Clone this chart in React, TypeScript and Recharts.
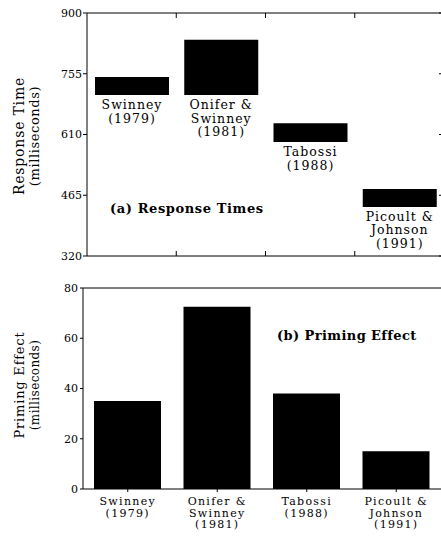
import React from 'react';
import { BarChart, Bar, XAxis, YAxis, LabelList } from 'recharts';

// study labels, one line per "\n"
const studies = [
  'Swinney\n(1979)',
  'Onifer &\nSwinney\n(1981)',
  'Tabossi\n(1988)',
  'Picoult &\nJohnson\n(1991)',
];

// (a) response time range, ms
const rtLow = [704, 704, 592, 437];
const rtHigh = [747, 836, 637, 480];
const rtTicks = [320, 465, 610, 755, 900];

// (b) priming effect, ms
const primingEffect = [35, 72.5, 38, 15];
const primingTicks = [0, 20, 40, 60, 80];

// boundaries between the study columns (frame ticks)
const bandEdges = [1, 2, 3];

const FONT = '"DejaVu Serif", "Liberation Serif", serif';

const rtData = studies.map((name, i) => ({ name, pos: i + 0.5, range: [rtLow[i], rtHigh[i]] }));
const primingData = studies.map((name, i) => ({ name, value: primingEffect[i] }));

const noTick = () => null;

// caption drawn under each floating bar in panel (a)
const BarCaption = (props: any) => {
  const x = Number(props.x);
  const y = Number(props.y);
  const w = Number(props.width);
  const h = Number(props.height);
  const bottom = Math.max(y, y + h);
  const cx = x + w / 2;
  const lines = String(props.value).split('\n');
  return (
    <text x={cx} y={bottom + 14} textAnchor="middle" fontFamily={FONT} fontSize={12.5} letterSpacing={1} fill="#000">
      {lines.map((l, i) => (
        <tspan key={i} x={cx} dy={i === 0 ? 0 : 13.5}>{l}</tspan>
      ))}
    </text>
  );
};

// multi-line category tick for panel (b)
const StudyTick = (props: any) => {
  const { x, y, payload } = props;
  const lines = String(payload.value).split('\n');
  return (
    <text x={x} y={y + 11} textAnchor="middle" fontFamily={FONT} fontSize={11} letterSpacing={1.3} fill="#000">
      {lines.map((l, i) => (
        <tspan key={i} x={x} dy={i === 0 ? 0 : 11.5}>{l}</tspan>
      ))}
    </text>
  );
};

const tickStyle = { fontFamily: FONT, fontSize: 11, fill: '#000' };

export default function App() {
  return (
    <div style={{ position: 'absolute', left: 0, top: 0, width: 441, height: 540, overflow: 'hidden', background: '#fff' }}>
      {/* (a) Response times */}
      <div style={{ position: 'absolute', left: 0, top: 0 }}>
        <BarChart width={444} height={270} data={rtData} margin={{ top: 12, right: 0, bottom: 13, left: 0 }} barSize={74}>
          <XAxis dataKey="name" height={1} tick={noTick} tickLine={false} stroke="#000" />
          <XAxis xAxisId="frameTop" dataKey="name" orientation="top" height={1} tick={noTick} tickLine={false} stroke="#000" />
          <XAxis xAxisId="edgeTop" dataKey="pos" type="number" orientation="top" domain={[0, 4]} ticks={bandEdges}
            allowDataOverflow mirror axisLine={false} tick={noTick} tickSize={5} height={1} stroke="#000" />
          <XAxis xAxisId="edgeBottom" dataKey="pos" type="number" orientation="bottom" domain={[0, 4]} ticks={bandEdges}
            allowDataOverflow mirror axisLine={false} tick={noTick} tickSize={5} height={1} stroke="#000" />
          <YAxis domain={[320, 900]} ticks={rtTicks} interval={0} width={87} tickSize={4} tickMargin={1}
            tick={tickStyle} stroke="#000" allowDataOverflow />
          <YAxis yAxisId="right" orientation="right" domain={[320, 900]} ticks={rtTicks} interval={0}
            mirror tick={noTick} tickSize={5} width={2} stroke="#000" allowDataOverflow />
          <Bar dataKey="range" fill="#000" isAnimationActive={false}>
            <LabelList dataKey="name" content={BarCaption} />
          </Bar>
        </BarChart>
      </div>

      {/* (b) Priming effect */}
      <div style={{ position: 'absolute', left: 0, top: 270 }}>
        <BarChart width={441} height={270} data={primingData} margin={{ top: 17, right: 0, bottom: 0, left: 0 }} barSize={67}>
          <XAxis dataKey="name" interval={0} height={51} tickSize={3} tickMargin={2} tick={<StudyTick />} stroke="#000" />
          <XAxis xAxisId="frameTop" dataKey="name" orientation="top" tick={noTick} tickLine={false} height={1} stroke="#000" />
          <YAxis domain={[0, 80]} ticks={primingTicks} interval={0} width={83} tickSize={3} tickMargin={2}
            tick={tickStyle} stroke="#000" />
          <Bar dataKey="value" fill="#000" isAnimationActive={false} />
        </BarChart>
      </div>

      {/* axis titles and panel captions */}
      <svg width={441} height={540} style={{ position: 'absolute', left: 0, top: 0, pointerEvents: 'none' }}>
        <g fontFamily={FONT} fill="#000">
          <text transform="translate(24,136) rotate(-90)" textAnchor="middle" fontSize={14} letterSpacing={0.8}>Response Time</text>
          <text transform="translate(39,136) rotate(-90)" textAnchor="middle" fontSize={13} letterSpacing={0.6}>(milliseconds)</text>
          <text transform="translate(24,385) rotate(-90)" textAnchor="middle" fontSize={13} letterSpacing={0.8}>Priming Effect</text>
          <text transform="translate(39,385) rotate(-90)" textAnchor="middle" fontSize={12} letterSpacing={0.4}>(milliseconds)</text>
          <text x={110} y={213} fontSize={13} fontWeight="bold" letterSpacing={0.6}>(a) Response Times</text>
          <text x={277} y={340} fontSize={13} fontWeight="bold" letterSpacing={0.4}>(b) Priming Effect</text>
        </g>
      </svg>
    </div>
  );
}
